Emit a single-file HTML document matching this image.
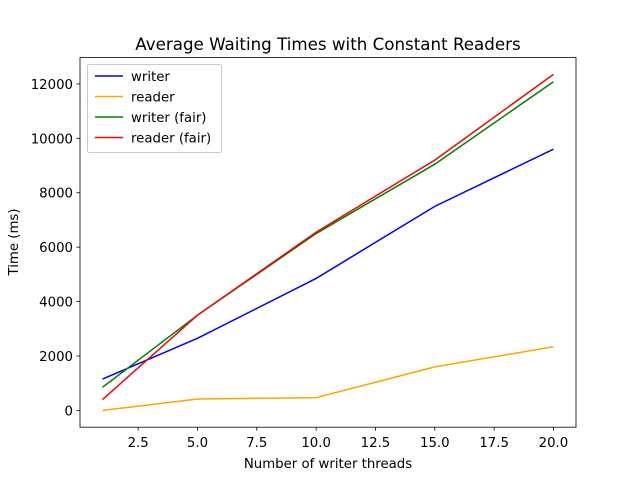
<!DOCTYPE html>
<html><head><meta charset="utf-8"><style>
body{margin:0;background:#fff;}
svg{font-family:"DejaVu Sans","Liberation Sans",sans-serif;}
</style></head><body>
<svg id="chart" width="640" height="480" xmlns="http://www.w3.org/2000/svg">
<rect width="640" height="480" fill="#fff"/>
<text x="328" y="50" font-size="16.7" text-anchor="middle">Average Waiting Times with Constant Readers</text>
<g id="axes"></g>
<g id="lines"></g>
<rect x="80" y="57.6" width="496" height="369.6" fill="none" stroke="#000" stroke-width="0.8"/>
<text x="328" y="468" font-size="13.3" text-anchor="middle">Number of writer threads</text>
<text transform="translate(18,242) rotate(-90)" font-size="13.3" text-anchor="middle">Time (ms)</text>
<g id="legend"></g>
</svg>
<script>
const xValues=[1,5,10,15,20];
const writer=[1150,2650,4850,7500,9600];
const reader=[0,420,470,1600,2340];
const writerFair=[850,3500,6500,9050,12080];
const readerFair=[400,3500,6550,9200,12350];
const xTicks=[2.5,5.0,7.5,10.0,12.5,15.0,17.5,20.0];
const yTicks=[0,2000,4000,6000,8000,10000,12000];
const seriesNames=["writer","reader","writer (fair)","reader (fair)"];
const seriesColors=["#0000ff","#ffa500","#008000","#ff0000"];
const allSeries=[writer,reader,writerFair,readerFair];

const L=80,R=576,T=57.6,B=427.2;
const xmin=Math.min(...xValues),xmax=Math.max(...xValues);
const xpad=(xmax-xmin)*0.05;
const all=allSeries.flat();
const ymin0=Math.min(...all),ymax0=Math.max(...all),ypad=(ymax0-ymin0)*0.05;
const X=v=>L+(v-(xmin-xpad))/((xmax+xpad)-(xmin-xpad))*(R-L);
const Y=v=>B-(v-(ymin0-ypad))/((ymax0+ypad)-(ymin0-ypad))*(B-T);
const NS="http://www.w3.org/2000/svg";
function mk(tag,attrs,parent){const e=document.createElementNS(NS,tag);for(const k in attrs)e.setAttribute(k,attrs[k]);parent.appendChild(e);return e;}
const axes=document.getElementById('axes');
xTicks.forEach(t=>{
 const l=mk('line',{x1:X(t),x2:X(t),y1:B,y2:B+3.5,stroke:'#000','stroke-width':0.8},axes);
 
 
 const tx=mk('text',{x:X(t),y:B+20,'font-size':13.3,'text-anchor':'middle'},axes);
 tx.textContent=t.toFixed(1);
 
 
});
yTicks.forEach(t=>{
 const l=mk('line',{x1:L-3.5,x2:L,y1:Y(t),y2:Y(t),stroke:'#000','stroke-width':0.8},axes);
 
 
 const tx=mk('text',{x:L-7,y:Y(t)+5,'font-size':13.3,'text-anchor':'end'},axes);
 tx.textContent=t;
 
 
});
const lines=document.getElementById('lines');
allSeries.forEach((s,i)=>{
 const p=mk('polyline',{points:s.map((v,j)=>X(xValues[j])+','+Y(v)).join(' '),fill:'none',stroke:seriesColors[i],'stroke-width':1.5},lines);
 
 
});
const lg=document.getElementById('legend');
const box=mk('rect',{x:87.5,y:64.5,width:134,height:88,fill:'#fff','fill-opacity':0.8,stroke:'#ccc','stroke-width':1,rx:2},lg);


seriesNames.forEach((n,i)=>{
 const y=76+i*20.5;
 const l=mk('line',{x1:95,x2:123,y1:y,y2:y,stroke:seriesColors[i],'stroke-width':1.5},lg);
 
 
 const t=mk('text',{x:131,y:y+5,'font-size':13.3},lg);
 t.textContent=n;
 
 
});
</script>
</body></html>
